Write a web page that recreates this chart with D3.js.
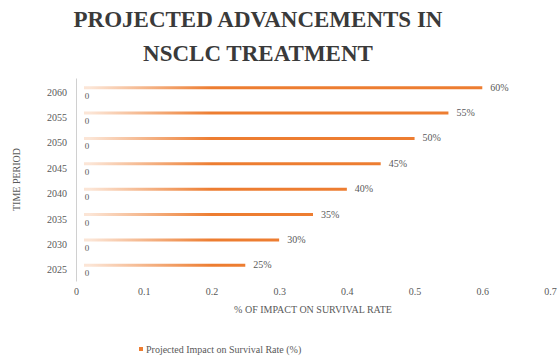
<!DOCTYPE html>
<html>
<head>
<meta charset="utf-8">
<script src="https://cdn.jsdelivr.net/npm/d3@7"></script>
<style>
  html, body { margin: 0; padding: 0; background: #fff; }
  svg { display: block; }
</style>
</head>
<body>
<script>
// Chart data
const years = ["2060", "2055", "2050", "2045", "2040", "2035", "2030", "2025"];
const impact = [0.60, 0.55, 0.50, 0.45, 0.40, 0.35, 0.30, 0.25];
const startValues = [0, 0, 0, 0, 0, 0, 0, 0];
const xTicks = [0, 0.1, 0.2, 0.3, 0.4, 0.5, 0.6, 0.7];
const titleLines = ["PROJECTED ADVANCEMENTS IN", "NSCLC TREATMENT"];
const xTitle = "% OF IMPACT ON SURVIVAL RATE";
const yTitle = "TIME PERIOD";
const seriesName = "Projected Impact on Survival Rate (%)";

const W = 558, H = 361;
const orange = "#ED7D31";
const grey = "#595959";
const serif = "'Liberation Serif', 'Times New Roman', serif";

const svg = d3.select("body").append("svg")
  .attr("width", W).attr("height", H)
  .style("font-family", serif);

const x = d3.scaleLinear().domain([0, 0.7]).range([76, 550]);
const y = d3.scaleBand().domain(years).range([78, 281]).paddingInner(0).paddingOuter(0);
const yc = d => y(d) + y.bandwidth() / 2;

// Title
svg.append("g").selectAll("text").data(titleLines).join("text")
  .style("font-family", serif)
  .attr("x", 258).attr("y", (d, i) => 27 + i * 34)
  .attr("text-anchor", "middle")
  .attr("font-size", 23).attr("font-weight", "bold")
  .attr("fill", "#3a3a3a")
  .text(d => d);

// Fade-in gradient along each line
const defs = svg.append("defs");
const grad = defs.append("linearGradient").attr("id", "lineFade")
  .attr("gradientUnits", "userSpaceOnUse")
  .attr("x1", x(0.02)).attr("x2", x(0.2)).attr("y1", 0).attr("y2", 0);
grad.append("stop").attr("offset", 0).attr("stop-color", orange).attr("stop-opacity", 0.2);
grad.append("stop").attr("offset", 1).attr("stop-color", orange).attr("stop-opacity", 1);

// Y axis line and labels
const yAxis = d3.axisLeft(y).tickSize(0).tickPadding(9);
const gy = svg.append("g").attr("transform", `translate(${x(0)},0)`).call(yAxis)
  .attr("font-family", null);
gy.select(".domain").attr("stroke", "#d0d0d0").attr("stroke-width", 1);
gy.selectAll("text").style("font-family", serif).attr("font-size", 10).attr("fill", grey)
  .attr("dy", "0.5em");

// X axis labels (no line)
const xAxis = d3.axisBottom(x).tickValues(xTicks).tickSize(0).tickPadding(0)
  .tickFormat(d => d === 0 ? "0" : d3.format(".1f")(d));
const gx = svg.append("g").attr("transform", `translate(0,288)`).call(xAxis)
  .attr("font-family", null);
gx.select(".domain").remove();
gx.selectAll("text").style("font-family", serif).attr("font-size", 10).attr("fill", grey);

// Lines from start value to projected impact
const rows = years.map((yr, i) => ({ yr, v: impact[i], s: startValues[i] }));
svg.append("g").selectAll("line").data(rows).join("line")
  .attr("x1", d => x(d.s) + 8).attr("x2", d => x(d.v))
  .attr("y1", d => yc(d.yr) - 3).attr("y2", d => yc(d.yr) - 3)
  .attr("stroke", "url(#lineFade)").attr("stroke-width", 3);

// Start labels
svg.append("g").selectAll("text").data(rows).join("text")
  .style("font-family", serif)
  .attr("x", d => x(d.s) + 11).attr("y", d => yc(d.yr) + 8)
  .attr("text-anchor", "middle").attr("font-size", 9).attr("fill", grey)
  .text(d => d3.format("d")(d.s));

// Value labels
svg.append("g").selectAll("text").data(rows).join("text")
  .style("font-family", serif)
  .attr("x", d => x(d.v) + 8).attr("y", d => yc(d.yr))
  .attr("font-size", 10).attr("fill", grey)
  .text(d => d3.format(".0%")(d.v));

// Axis titles
svg.append("text").style("font-family", serif)
  .attr("x", 313).attr("y", 313)
  .attr("text-anchor", "middle").attr("font-size", 10).attr("fill", grey)
  .text(xTitle);
svg.append("text").style("font-family", serif)
  .attr("transform", `translate(20,${(78 + 281) / 2}) rotate(-90)`)
  .attr("text-anchor", "middle").attr("font-size", 10).attr("fill", grey)
  .text(yTitle);

// Legend
const lg = svg.append("g").attr("transform", "translate(141,349)");
lg.append("rect").attr("x", -2).attr("y", -2).attr("width", 4).attr("height", 4).attr("fill", orange);
lg.append("text").style("font-family", serif)
  .attr("x", 5).attr("y", 3.5).attr("font-size", 10).attr("fill", grey)
  .text(seriesName);
</script>
</body>
</html>
